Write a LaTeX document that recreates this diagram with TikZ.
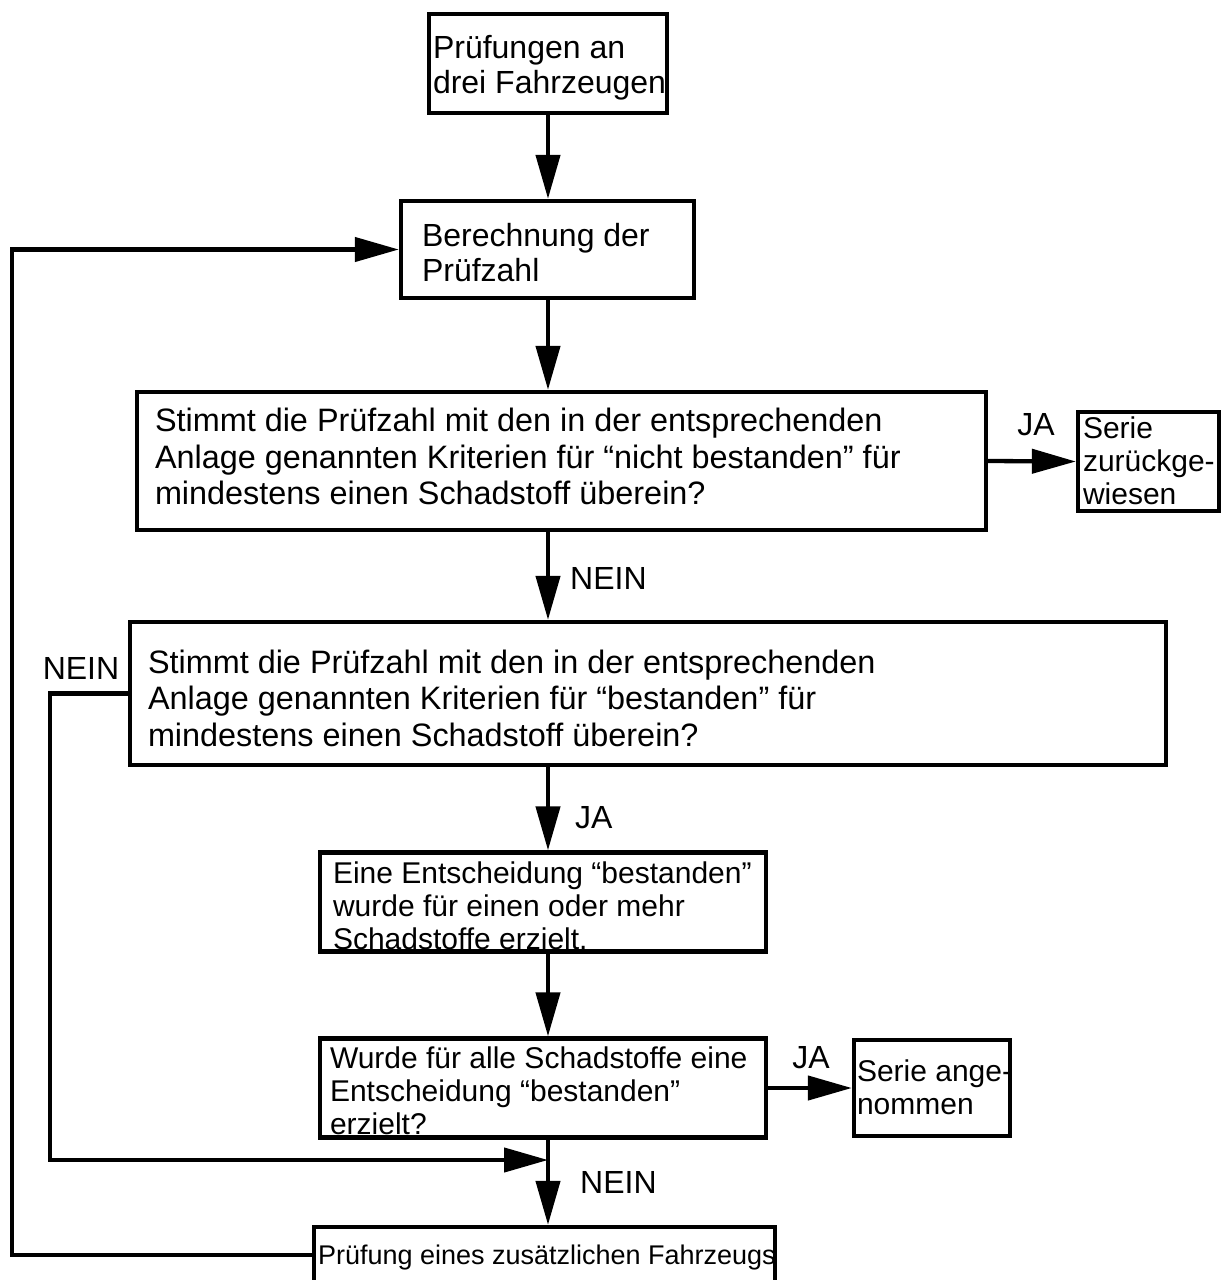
\documentclass[tikz,border=0pt]{standalone}
\usepackage{fontspec}
\setmainfont{Liberation Sans}
\usetikzlibrary{arrows.meta}
\newcommand\lbox[3]{\makebox[#1][l]{\raisebox{-#2}[\height][\depth]{\begin{tabular}{@{}l@{}}#3\end{tabular}}}}
\begin{document}
\begin{tikzpicture}[x=1pt,y=-1pt,
  box/.style={draw, line width=4.3pt, inner sep=0pt, anchor=center},
  fA/.style={font=\fontsize{32}{35}\selectfont},
  fB/.style={font=\fontsize{32.4}{36.5}\selectfont},
  fC/.style={font=\fontsize{30}{33}\selectfont},
  fD/.style={font=\fontsize{27}{30}\selectfont},
  lab/.style={font=\fontsize{32}{36}\selectfont, inner sep=0pt},
  arr/.style={line width=4.3pt, -{Triangle[length=44pt,width=24pt]}}]
\useasboundingbox (0,0) rectangle (1221,1280);
\coordinate (ax) at (548,0);
\node[box, fA, minimum width=238pt, minimum height=99pt] (b1) at (548,63.5)
  {\lbox{230pt}{5pt}{Prüfungen an\\drei Fahrzeugen}};
\node[box, fA, minimum width=293pt, minimum height=97pt] (b2) at (547.5,249.5)
  {\lbox{251pt}{7pt}{Berechnung der\\Prüfzahl}};
\node[box, fB, minimum width=849pt, minimum height=138pt] (b3) at (561.5,461)
  {\lbox{813pt}{0pt}{Stimmt die Prüfzahl mit den in der entsprechenden\\Anlage genannten Kriterien für “nicht bestanden” für\\mindestens einen Schadstoff überein?}};
\node[box, fC, minimum width=141pt, minimum height=99pt] (zur) at (1148.5,461.5)
  {\lbox{131pt}{3pt}{Serie\\zurückge-\\wiesen}};
\node[box, fB, minimum width=1036pt, minimum height=143pt] (b4) at (648,693.5)
  {\lbox{1000pt}{9pt}{Stimmt die Prüfzahl mit den in der entsprechenden\\Anlage genannten Kriterien für “bestanden” für\\mindestens einen Schadstoff überein?}};
\node[box, fC, minimum width=446pt, minimum height=96pt] (b5) at (543,902)
  {\lbox{420pt}{8pt}{Eine Entscheidung “bestanden”\\wurde für einen oder mehr\\Schadstoffe erzielt.}};
\node[box, fC, minimum width=446pt, minimum height=96pt] (b6) at (543,1088)
  {\lbox{426pt}{7pt}{Wurde für alle Schadstoffe eine\\Entscheidung “bestanden”\\erzielt?}};
\node[box, fC, minimum width=156pt, minimum height=96pt] (b7) at (932,1088)
  {\lbox{150pt}{3pt}{Serie ange-\\nommen}};
\node[box, fD, minimum width=461pt, minimum height=56pt] (b8) at (544.5,1255)
  {\lbox{453pt}{3pt}{Prüfung eines zusätzlichen Fahrzeugs}};
% labels
\node[lab, anchor=center] (ja1) at (1036,425) {JA};
\node[lab, anchor=west] (nein1) at (570,578) {NEIN};
\node[lab, anchor=center] (nein2) at (81,668) {NEIN};
\node[lab, anchor=west] (ja2) at (575,818) {JA};
\node[lab, anchor=center] (ja3) at (811,1058) {JA};
\node[lab, anchor=west] (nein3) at (580,1182) {NEIN};
% connectors
\coordinate (m) at (548,1160);
\draw[arr] (b1.south -| ax) -- (b2.north -| ax);
\draw[arr] (b2.south -| ax) -- (b3.north -| ax);
\draw[arr] (b3.east) -- (zur.west);
\draw[arr] (b3.south -| ax) -- (b4.north -| ax);
\draw[arr] (b4.south -| ax) -- (b5.north -| ax);
\draw[arr] (b5.south -| ax) -- (b6.north -| ax);
\draw[arr] (b6.east) -- (b7.west);
\draw[arr] (b6.south -| ax) -- (b8.north -| ax);
\draw[arr] (b4.west) -- ++(-78,0) |- (m);
\draw[arr] (b8.west) -- ++(-300,0) |- (b2.west);
\end{tikzpicture}
\end{document}
